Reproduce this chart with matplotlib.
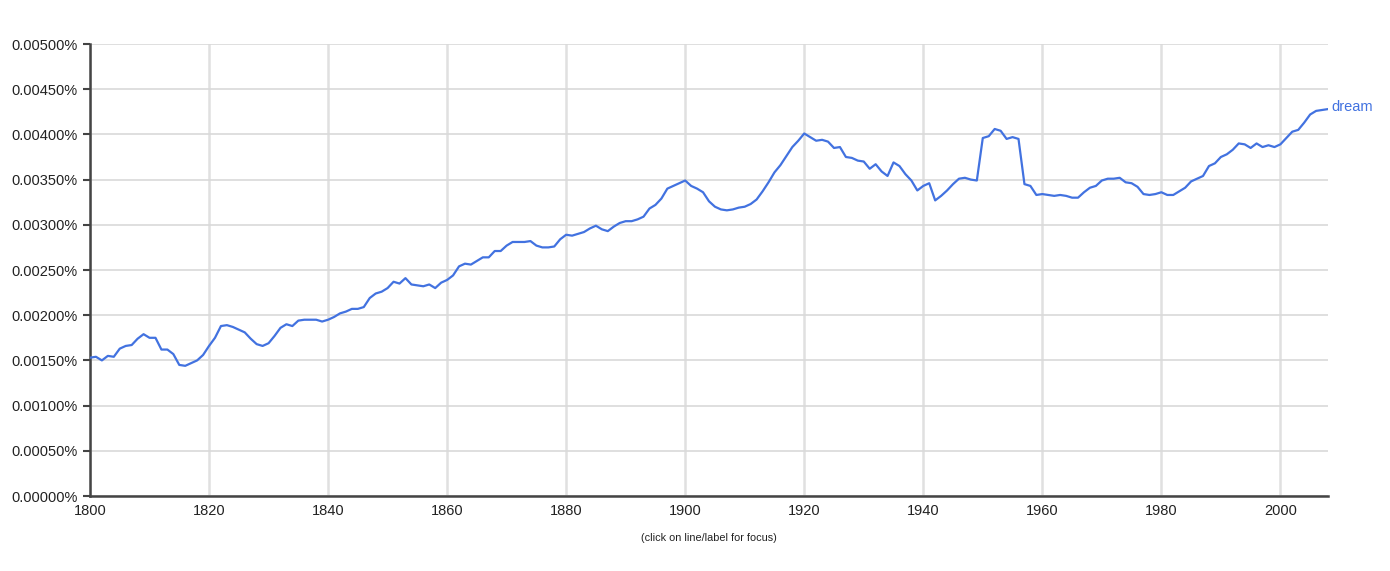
import matplotlib
matplotlib.use("Agg")
import matplotlib.pyplot as plt
from matplotlib.ticker import FuncFormatter

plt.rcParams['font.family'] = ['Liberation Sans', 'DejaVu Sans']

start_year = 1800
end_year = 2008
series_label = "dream"
# values in percent
dream = [
    0.00153, 0.00154, 0.00150, 0.00155, 0.00154, 0.00163, 0.00166, 0.00167, 0.00174, 0.00179,  # 1800-1809
    0.00175, 0.00175, 0.00162, 0.00162, 0.00157, 0.00145, 0.00144, 0.00147, 0.00150, 0.00156,  # 1810-1819
    0.00166, 0.00175, 0.00188, 0.00189, 0.00187, 0.00184, 0.00181, 0.00174, 0.00168, 0.00166,  # 1820-1829
    0.00169, 0.00177, 0.00186, 0.00190, 0.00188, 0.00194, 0.00195, 0.00195, 0.00195, 0.00193,  # 1830-1839
    0.00195, 0.00198, 0.00202, 0.00204, 0.00207, 0.00207, 0.00209, 0.00219, 0.00224, 0.00226,  # 1840-1849
    0.00230, 0.00237, 0.00235, 0.00241, 0.00234, 0.00233, 0.00232, 0.00234, 0.00230, 0.00236,  # 1850-1859
    0.00239, 0.00244, 0.00254, 0.00257, 0.00256, 0.00260, 0.00264, 0.00264, 0.00271, 0.00271,  # 1860-1869
    0.00277, 0.00281, 0.00281, 0.00281, 0.00282, 0.00277, 0.00275, 0.00275, 0.00276, 0.00284,  # 1870-1879
    0.00289, 0.00288, 0.00290, 0.00292, 0.00296, 0.00299, 0.00295, 0.00293, 0.00298, 0.00302,  # 1880-1889
    0.00304, 0.00304, 0.00306, 0.00309, 0.00318, 0.00322, 0.00329, 0.00340, 0.00343, 0.00346,  # 1890-1899
    0.00349, 0.00343, 0.00340, 0.00336, 0.00326, 0.00320, 0.00317, 0.00316, 0.00317, 0.00319,  # 1900-1909
    0.00320, 0.00323, 0.00328, 0.00337, 0.00347, 0.00358, 0.00366, 0.00376, 0.00386, 0.00393,  # 1910-1919
    0.00401, 0.00397, 0.00393, 0.00394, 0.00392, 0.00385, 0.00386, 0.00375, 0.00374, 0.00371,  # 1920-1929
    0.00370, 0.00362, 0.00367, 0.00359, 0.00354, 0.00369, 0.00365, 0.00356, 0.00349, 0.00338,  # 1930-1939
    0.00343, 0.00346, 0.00327, 0.00332, 0.00338, 0.00345, 0.00351, 0.00352, 0.00350, 0.00349,  # 1940-1949
    0.00396, 0.00398, 0.00406, 0.00404, 0.00395, 0.00397, 0.00395, 0.00345, 0.00343, 0.00333,  # 1950-1959
    0.00334, 0.00333, 0.00332, 0.00333, 0.00332, 0.00330, 0.00330, 0.00336, 0.00341, 0.00343,  # 1960-1969
    0.00349, 0.00351, 0.00351, 0.00352, 0.00347, 0.00346, 0.00342, 0.00334, 0.00333, 0.00334,  # 1970-1979
    0.00336, 0.00333, 0.00333, 0.00337, 0.00341, 0.00348, 0.00351, 0.00354, 0.00365, 0.00368,  # 1980-1989
    0.00375, 0.00378, 0.00383, 0.00390, 0.00389, 0.00385, 0.00390, 0.00386, 0.00388, 0.00386,  # 1990-1999
    0.00389, 0.00396, 0.00403, 0.00405, 0.00413, 0.00422, 0.00426, 0.00427, 0.00428,           # 2000-2008
]
years = list(range(start_year, end_year + 1))
assert len(years) == len(dream)

x_ticks = [1800, 1820, 1840, 1860, 1880, 1900, 1920, 1940, 1960, 1980, 2000]
y_ticks = [0.0, 0.0005, 0.0010, 0.0015, 0.0020, 0.0025, 0.0030, 0.0035, 0.0040, 0.0045, 0.0050]

W, H = 1390, 571
fig = plt.figure(figsize=(W / 100, H / 100), dpi=100)
left, right, top, bottom = 90, 1328, 44, 496
ax = fig.add_axes([left / W, 1 - bottom / H, (right - left) / W, (bottom - top) / H])

line_color = '#4272e0'
ax.plot(years, dream, color=line_color, lw=1.6, solid_joinstyle='round', zorder=3)

ax.set_xlim(start_year, end_year)
ax.set_ylim(0, 0.005)
ax.set_xticks(x_ticks)
ax.set_xticks([start_year], minor=True)
ax.set_yticks(y_ticks)
ax.yaxis.set_major_formatter(FuncFormatter(lambda v, p: f"{v:.5f}%"))

ax.grid(axis='y', which='major', color='#d9d9d9', lw=1.2, zorder=0)
ax.grid(axis='x', which='major', color='#e0e0e0', lw=1.8, zorder=0)
ax.set_axisbelow(True)

for s in ['top', 'right']:
    ax.spines[s].set_visible(False)
for s in ['left', 'bottom']:
    ax.spines[s].set_color('#444444')
    ax.spines[s].set_linewidth(1.8)

ax.tick_params(axis='y', length=5, width=1.5, color='#444444', pad=4,
               labelsize=10.5, labelcolor='#222222')
ax.tick_params(axis='x', which='major', length=0, pad=6, labelsize=10.5, labelcolor='#222222')
ax.tick_params(axis='x', which='minor', length=5, width=1.8, color='#444444')

ax.annotate(series_label, xy=(years[-1], dream[-1]), xytext=(2.5, -1.4),
            textcoords='offset points', color=line_color, fontsize=10.5,
            ha='left', va='baseline', annotation_clip=False)

fig.text((left + right) / 2 / W, 1 - 538 / H, "(click on line/label for focus)",
         ha='center', va='center', fontsize=7.8, color='#222222')

fig.savefig("out.png", dpi=100, facecolor='white')
